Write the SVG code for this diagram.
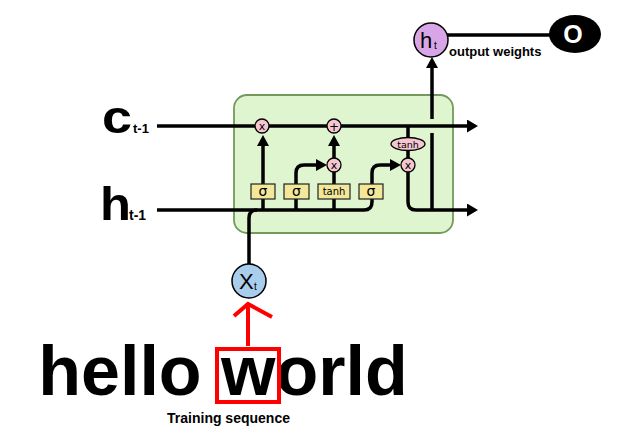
<svg xmlns="http://www.w3.org/2000/svg" width="620" height="438" viewBox="0 0 620 438">
<style>
.ln{fill:none;stroke:#000;stroke-width:3.5}
.op{fill:#f5c6cf;stroke:#000;stroke-width:1.3}
.gate{fill:#f3e79a;stroke:#222;stroke-width:1.2}
.sm{font-family:"DejaVu Sans",sans-serif;text-anchor:middle;fill:#000}
.b{font-family:"Liberation Sans",Arial,sans-serif;font-weight:bold;fill:#000}
.r{font-family:"Liberation Sans",Arial,sans-serif;fill:#000}
</style>
<defs>
<marker id="ah" markerUnits="userSpaceOnUse" markerWidth="12" markerHeight="14" refX="0" refY="6.5" orient="auto">
<path d="M0,0 L11,6.5 L0,13 z" fill="#000"/>
</marker>
<marker id="ahs" markerUnits="userSpaceOnUse" markerWidth="12" markerHeight="14" refX="0" refY="6" orient="auto">
<path d="M0,0 L11,6 L0,12 z" fill="#000"/>
</marker>
</defs>

<g id="cell">
<rect x="234" y="95" width="219" height="138" rx="13" fill="#dff5cf" stroke="#739a5b" stroke-width="1.8"/>
</g>

<g id="connectors">
<path class="ln" d="M157,126 H467" marker-end="url(#ah)"/>
<path class="ln" d="M157,210 H364 Q372,210 372,202 V173 Q372,165 380,165 H390" marker-end="url(#ahs)"/>
<path class="ln" d="M249,264 V218 Q249,210 257,210"/>
<path class="ln" d="M263,210 V146" marker-end="url(#ahs)"/>
<path class="ln" d="M296,210 V173 Q296,165 304,165 H316" marker-end="url(#ahs)"/>
<path class="ln" d="M334,210 V172"/>
<path class="ln" d="M334,158 V146" marker-end="url(#ahs)"/>
<path class="ln" d="M408,126 V138"/>
<path class="ln" d="M408,150 V158"/>
<path class="ln" d="M408,172 V202 Q408,210 416,210 H467" marker-end="url(#ah)"/>
<path class="ln" d="M432,210 V133"/>
<path class="ln" d="M432,119 V68" marker-end="url(#ahs)"/>
<path class="ln" d="M447,35 H552"/>
<path d="M248,346 V305 M234,316 L248,304 L272,317" fill="none" stroke="#f00" stroke-width="4"/>
</g>

<g id="forget-mul"><circle class="op" cx="262" cy="126" r="7"/><text class="sm" x="262" y="130" font-size="11">x</text></g>
<g id="add"><circle class="op" cx="334" cy="126" r="7"/><text class="sm" x="334" y="130.5" font-size="12">+</text></g>
<g id="input-mul"><circle class="op" cx="334" cy="165" r="7"/><text class="sm" x="334" y="169" font-size="11">x</text></g>
<g id="output-mul"><circle class="op" cx="408" cy="165" r="7"/><text class="sm" x="408" y="169" font-size="11">x</text></g>
<g id="tanh-out"><ellipse class="op" cx="408" cy="144" rx="17" ry="6.5"/><text class="sm" x="408" y="147.5" font-size="9.5">tanh</text></g>

<g id="sigma1"><rect class="gate" x="251" y="184" width="24" height="15"/><text class="sm" x="263" y="196" font-size="14">σ</text></g>
<g id="sigma2"><rect class="gate" x="284" y="184" width="25" height="15"/><text class="sm" x="296.5" y="196" font-size="14">σ</text></g>
<g id="tanh-gate"><rect class="gate" x="318" y="184" width="32" height="15"/><text class="sm" x="334" y="195" font-size="10">tanh</text></g>
<g id="sigma4"><rect class="gate" x="359" y="184" width="24" height="15"/><text class="sm" x="371" y="196" font-size="14">σ</text></g>

<g id="ct-label">
<text class="b" x="102" y="133" font-size="47" textLength="30" lengthAdjust="spacingAndGlyphs">c</text>
<text class="b" x="133" y="133" font-size="13">t-1</text>
</g>
<g id="ht-label">
<text class="b" x="100" y="220" font-size="47" textLength="31" lengthAdjust="spacingAndGlyphs">h</text>
<text class="b" x="129" y="220" font-size="14">t-1</text>
</g>

<g id="xt">
<circle cx="249" cy="281" r="17" fill="#a9cdec" stroke="#000" stroke-width="1.5"/>
<text class="r" x="239" y="289" font-size="22">X</text>
<text class="r" x="254" y="290" font-size="10">t</text>
</g>

<g id="ht">
<circle cx="431" cy="40" r="17" fill="#d8a6e6" stroke="#000" stroke-width="1.5"/>
<text class="r" x="420" y="48" font-size="22">h</text>
<text class="r" x="434" y="49" font-size="10">t</text>
</g>

<g id="output">
<ellipse cx="575" cy="34" rx="26" ry="19" fill="#000"/>
<text class="b" x="573" y="43" font-size="25" text-anchor="middle" fill="#fff" style="fill:#fff">O</text>
</g>
<text class="b" x="449" y="56" font-size="13">output weights</text>

<g id="sequence">
<text class="b" x="223" y="395" font-size="70" text-anchor="middle">hello world</text>
<rect x="217" y="349" width="62" height="53" fill="none" stroke="#f00" stroke-width="4"/>
<text class="b" x="228.5" y="423" font-size="14" text-anchor="middle">Training sequence</text>
</g>
</svg>
